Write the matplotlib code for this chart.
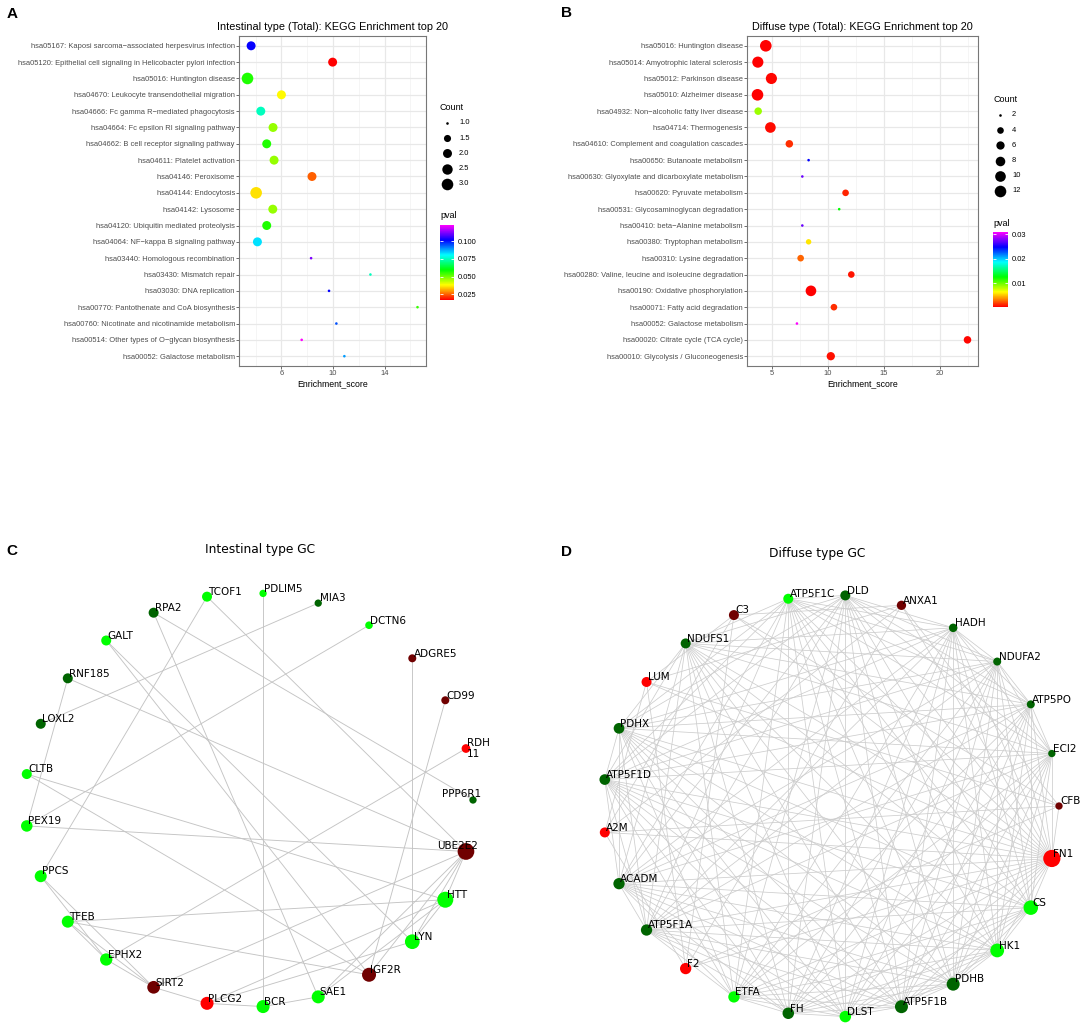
import numpy as np
import matplotlib.pyplot as plt
from matplotlib.colors import LinearSegmentedColormap, Normalize
from matplotlib.cm import ScalarMappable
from matplotlib.collections import LineCollection
from itertools import combinations

# ---------------------------
# Panel A: Intestinal type KEGG enrichment
# ---------------------------
a_terms = [
    "hsa05167: Kaposi sarcoma\u2212associated herpesvirus infection",
    "hsa05120: Epithelial cell signaling in Helicobacter pylori infection",
    "hsa05016: Huntington disease",
    "hsa04670: Leukocyte transendothelial migration",
    "hsa04666: Fc gamma R\u2212mediated phagocytosis",
    "hsa04664: Fc epsilon RI signaling pathway",
    "hsa04662: B cell receptor signaling pathway",
    "hsa04611: Platelet activation",
    "hsa04146: Peroxisome",
    "hsa04144: Endocytosis",
    "hsa04142: Lysosome",
    "hsa04120: Ubiquitin mediated proteolysis",
    "hsa04064: NF\u2212kappa B signaling pathway",
    "hsa03440: Homologous recombination",
    "hsa03430: Mismatch repair",
    "hsa03030: DNA replication",
    "hsa00770: Pantothenate and CoA biosynthesis",
    "hsa00760: Nicotinate and nicotinamide metabolism",
    "hsa00514: Other types of O\u2212glycan biosynthesis",
    "hsa00052: Galactose metabolism",
]
a_score = [3.65, 9.97, 3.37, 6.0, 4.4, 5.35, 4.86, 5.43, 8.37, 4.04,
           5.33, 4.86, 4.14, 8.3, 12.9, 9.69, 16.55, 10.26, 7.57, 10.88]
a_pval = [0.102, 0.017, 0.057, 0.038, 0.075, 0.047, 0.057, 0.047, 0.025, 0.036,
          0.047, 0.057, 0.083, 0.112, 0.075, 0.102, 0.055, 0.095, 0.123, 0.089]
a_count = [2, 2, 3, 2, 2, 2, 2, 2, 2, 3, 2, 2, 2, 1, 1, 1, 1, 1, 1, 1]

# ---------------------------
# Panel B: Diffuse type KEGG enrichment
# ---------------------------
b_terms = [
    "hsa05016: Huntington disease",
    "hsa05014: Amyotrophic lateral sclerosis",
    "hsa05012: Parkinson disease",
    "hsa05010: Alzheimer disease",
    "hsa04932: Non\u2212alcoholic fatty liver disease",
    "hsa04714: Thermogenesis",
    "hsa04610: Complement and coagulation cascades",
    "hsa00650: Butanoate metabolism",
    "hsa00630: Glyoxylate and dicarboxylate metabolism",
    "hsa00620: Pyruvate metabolism",
    "hsa00531: Glycosaminoglycan degradation",
    "hsa00410: beta\u2212Alanine metabolism",
    "hsa00380: Tryptophan metabolism",
    "hsa00310: Lysine degradation",
    "hsa00280: Valine, leucine and isoleucine degradation",
    "hsa00190: Oxidative phosphorylation",
    "hsa00071: Fatty acid degradation",
    "hsa00052: Galactose metabolism",
    "hsa00020: Citrate cycle (TCA cycle)",
    "hsa00010: Glycolysis / Gluconeogenesis",
]
b_score = [4.47, 3.76, 4.97, 3.73, 3.79, 4.88, 6.57, 8.29, 7.73, 11.59,
           11.02, 7.73, 8.29, 7.58, 12.1, 8.5, 10.55, 7.25, 22.47, 10.27]
b_pval = [0.0003, 0.0003, 0.0004, 0.0003, 0.0088, 0.0005, 0.0014, 0.0248, 0.0273, 0.0011,
          0.0125, 0.0273, 0.0058, 0.0027, 0.0008, 0.0002, 0.0014, 0.031, 0.0004, 0.0006]
b_count = [12, 11, 11, 12, 5, 10, 5, 2, 2, 4, 2, 2, 3, 4, 4, 10, 4, 2, 5, 6]

# ---------------------------
# Panel C: Intestinal type GC network (circular order)
# ---------------------------
c_nodes = ["PPP6R1", "RDH11", "CD99", "ADGRE5", "DCTN6", "MIA3", "PDLIM5", "TCOF1",
           "RPA2", "GALT", "RNF185", "LOXL2", "CLTB", "PEX19", "PPCS", "TFEB", "EPHX2",
           "SIRT2", "PLCG2", "BCR", "SAE1", "IGF2R", "LYN", "HTT", "UBE2E2"]
c_group = ["dkgreen", "red", "dkred", "dkred", "lime", "dkgreen", "lime", "lime",
           "dkgreen", "lime", "dkgreen", "dkgreen", "lime", "lime", "lime", "lime", "lime",
           "dkred", "red", "lime", "lime", "dkred", "lime", "lime", "dkred"]
c_score = [7.3, 8.7, 8, 8, 7.6, 7.3, 7.3, 10, 10, 10, 10, 10, 10, 11.5, 12, 12, 12.3,
           12.7, 13, 13, 13, 14, 14.7, 16, 16.7]
c_edges = [
    ("TCOF1", "PPCS"), ("TCOF1", "UBE2E2"), ("PDLIM5", "BCR"), ("MIA3", "LOXL2"),
    ("DCTN6", "PEX19"), ("ADGRE5", "LYN"), ("CD99", "IGF2R"), ("RDH11", "EPHX2"),
    ("RPA2", "PPP6R1"), ("RPA2", "SAE1"), ("GALT", "LYN"), ("GALT", "IGF2R"),
    ("RNF185", "PEX19"), ("RNF185", "UBE2E2"), ("CLTB", "HTT"), ("CLTB", "IGF2R"),
    ("PEX19", "UBE2E2"), ("PPCS", "EPHX2"), ("PPCS", "SIRT2"), ("TFEB", "HTT"),
    ("TFEB", "IGF2R"), ("TFEB", "EPHX2"), ("TFEB", "SIRT2"), ("EPHX2", "SIRT2"),
    ("SIRT2", "PLCG2"), ("SIRT2", "UBE2E2"), ("PLCG2", "BCR"), ("PLCG2", "HTT"),
    ("PLCG2", "LYN"), ("BCR", "SAE1"), ("SAE1", "UBE2E2"), ("SAE1", "HTT"),
    ("HTT", "UBE2E2"), ("LYN", "UBE2E2"), ("LYN", "HTT"), ("IGF2R", "UBE2E2"),
]

# ---------------------------
# Panel D: Diffuse type GC network (circular order)
# ---------------------------
d_nodes = ["CFB", "ECI2", "ATP5PO", "NDUFA2", "HADH", "ANXA1", "DLD", "ATP5F1C", "C3",
           "NDUFS1", "LUM", "PDHX", "ATP5F1D", "A2M", "ACADM", "ATP5F1A", "F2", "ETFA",
           "FH", "DLST", "ATP5F1B", "PDHB", "HK1", "CS", "FN1"]
d_group = ["dkred", "dkgreen", "dkgreen", "dkgreen", "dkgreen", "dkred", "dkgreen", "lime",
           "dkred", "dkgreen", "red", "dkgreen", "dkgreen", "red", "dkgreen", "dkgreen", "red",
           "lime", "dkgreen", "lime", "dkgreen", "dkgreen", "lime", "lime", "red"]
d_score = [7.3, 7.3, 8, 8, 8.5, 9.3, 10, 10, 10, 10, 10, 10.7, 10.7, 10, 11.3, 11.3, 11.3,
           11.3, 11.5, 11.5, 13, 13, 13.8, 14.5, 17.2]
# modules read as densely connected groups
d_metabolic = ["ECI2", "ATP5PO", "NDUFA2", "HADH", "DLD", "ATP5F1C", "NDUFS1", "PDHX",
               "ATP5F1D", "ACADM", "ATP5F1A", "ETFA", "FH", "DLST", "ATP5F1B", "PDHB",
               "HK1", "CS"]
d_complement = ["CFB", "ANXA1", "C3", "LUM", "A2M", "F2", "FN1"]
d_edges = (list(combinations(d_metabolic, 2)) + list(combinations(d_complement, 2))
           + [("FN1", g) for g in d_metabolic])

group_colors = {"lime": "#00FF00", "dkgreen": "#006400", "red": "#FF0000", "dkred": "#700000"}
rainbow6 = LinearSegmentedColormap.from_list(
    "rainbow6", ["#FF0000", "#FFFF00", "#00FF00", "#00FFFF", "#0000FF", "#FF00FF"])

W, H = 1084, 1026
fig = plt.figure(figsize=(W / 100, H / 100), dpi=100)
GG = "Liberation Sans"


def px_axes(left, top, right, bottom):
    return fig.add_axes([left / W, 1 - bottom / H, (right - left) / W, (bottom - top) / H])


# overlay in pixel coordinates for legends and titles
ov = fig.add_axes([0, 0, 1, 1])
ov.set_xlim(0, W)
ov.set_ylim(H, 0)
ov.axis("off")


def dot_diam(c, cmin, cmax):
    # ggplot area palette: diameter ~ 1 + 5*sqrt(rescaled)
    t = (np.asarray(c, float) - cmin) / (cmax - cmin)
    return 0.8 + 1.8 * (1 + 5 * np.sqrt(t))


def enrich_panel(box, terms, score, pval, count, title, xmaj, xmin_, breaks, blabels,
                 leg_x, leg_y, cb_box, cb_ticks, cb_fmt):
    ax = px_axes(*box)
    y = np.arange(len(terms))
    cmin, cmax = min(count), max(count)
    norm = Normalize(min(pval), max(pval))
    s = (dot_diam(count, cmin, cmax) * 0.72) ** 2
    ax.scatter(score, y, s=s, c=pval, cmap=rainbow6, norm=norm, linewidths=0, zorder=3)
    lo, hi = min(score), max(score)
    pad = 0.05 * (hi - lo)
    ax.set_xlim(lo - pad, hi + pad)
    ax.set_ylim(len(terms) - 0.4, -0.6)
    ax.set_yticks(y)
    ax.set_yticklabels(terms, family=GG, fontsize=5.4, color="#4d4d4d")
    ax.set_xticks(xmaj)
    ax.set_xticklabels([str(v) for v in xmaj], family=GG, fontsize=5.4, color="#4d4d4d")
    ax.set_xticks(xmin_, minor=True)
    ax.tick_params(which="major", length=2, width=0.5, color="#333333", pad=1)
    ax.tick_params(which="minor", length=0)
    ax.grid(which="major", color="#e8e8e8", lw=0.9, zorder=0)
    ax.grid(which="minor", axis="x", color="#f2f2f2", lw=0.5, zorder=0)
    ax.set_axisbelow(True)
    for sp in ax.spines.values():
        sp.set_color("#777777")
        sp.set_linewidth(0.8)
    ax.set_xlabel("Enrichment_score", family=GG, fontsize=6.3, labelpad=1.5)
    ax.set_title(title, family=GG, fontsize=7.8, pad=4)

    # size legend
    ov.text(leg_x, leg_y, "Count", family=GG, fontsize=6.5, ha="left", va="center")
    for i, (b, lab) in enumerate(zip(breaks, blabels)):
        yy = leg_y + 16 + i * 15.2
        ov.scatter(leg_x + 7, yy, s=(dot_diam(b, cmin, cmax) * 0.72) ** 2, c="black",
                   linewidths=0)
        ov.text(leg_x + 19, yy, lab, family=GG, fontsize=5.4, ha="left", va="center")

    # colour legend
    ov.text(leg_x, cb_box[1] - 9, "pval", family=GG, fontsize=6.5, ha="left", va="center")
    cax = px_axes(*cb_box)
    cb = fig.colorbar(ScalarMappable(norm=norm, cmap=rainbow6), cax=cax, ticks=cb_ticks)
    cb.outline.set_visible(False)
    cb.ax.set_yticklabels([cb_fmt % t for t in cb_ticks], family=GG, fontsize=5.4)
    cb.ax.tick_params(left=True, right=True, direction="in", color="white",
                      length=2.5, width=0.6, pad=3)


enrich_panel((239, 36, 426, 366), a_terms, a_score, a_pval, a_count,
             "Intestinal type (Total): KEGG Enrichment top 20",
             [6, 10, 14], [4, 8, 12, 16], [1.0, 1.5, 2.0, 2.5, 3.0],
             ["1.0", "1.5", "2.0", "2.5", "3.0"], 440, 107,
             (440, 225, 454, 300), [0.025, 0.050, 0.075, 0.100], "%.3f")

enrich_panel((747, 36, 978, 366), b_terms, b_score, b_pval, b_count,
             "Diffuse type (Total): KEGG Enrichment top 20",
             [5, 10, 15, 20], [7.5, 12.5, 17.5, 22.5], [2, 4, 6, 8, 10, 12],
             ["2", "4", "6", "8", "10", "12"], 993, 99,
             (993, 232, 1008, 307), [0.01, 0.02, 0.03], "%.2f")


def network_panel(cx, cy, rx, ry, nodes, groups, score, edges, title, tpos, special,
                  ecolor, elw):
    ax = px_axes(cx - rx, cy - ry, cx + rx, cy + ry)
    ax.set_xlim(-1, 1)
    ax.set_ylim(-1, 1)
    ax.axis("off")
    ang = 2 * np.pi * np.arange(len(nodes)) / len(nodes)
    pos = {nm: (np.cos(a), np.sin(a)) for nm, a in zip(nodes, ang)}
    segs = [[pos[u], pos[v]] for u, v in edges]
    ax.add_collection(LineCollection(segs, colors=ecolor, linewidths=elw, zorder=1))
    xs = [pos[n][0] for n in nodes]
    ys = [pos[n][1] for n in nodes]
    ax.scatter(xs, ys, s=(np.asarray(score) * 0.72) ** 2,
               c=[group_colors[g] for g in groups], linewidths=0, zorder=2, clip_on=False)
    for nm in nodes:
        txt, ha, dx, dy = special.get(nm, (nm, "left", 1.0, 3.4))
        ax.annotate(txt, pos[nm], xytext=(dx, dy), textcoords="offset points",
                    ha=ha, va="center", fontsize=7.5, zorder=3, annotation_clip=False)
    ov.text(tpos[0], tpos[1], title, fontsize=8.8, ha="center", va="center")


network_panel(249, 800, 224, 207, c_nodes, c_group, c_score, c_edges,
              "Intestinal type GC", (260, 550),
              {"PPP6R1": ("PPP6R1", "right", 5.8, 4.3),
               "UBE2E2": ("UBE2E2", "right", 8.6, 3.6),
               "RDH11": ("RDH\n11", "left", 0.7, 0.0)},
              "#c4c4c4", 0.65)
network_panel(831, 806, 228, 211, d_nodes, d_group, d_score, d_edges,
              "Diffuse type GC", (817, 553), {}, "#cdcdcd", 0.55)

# panel letters
for lab, x, y in [("A", 12, 14), ("B", 566, 13), ("C", 12, 551), ("D", 566, 552)]:
    ov.text(x, y, lab, family=GG, fontsize=11, fontweight="bold", ha="center", va="center")

fig.savefig("out.png", dpi=100)
